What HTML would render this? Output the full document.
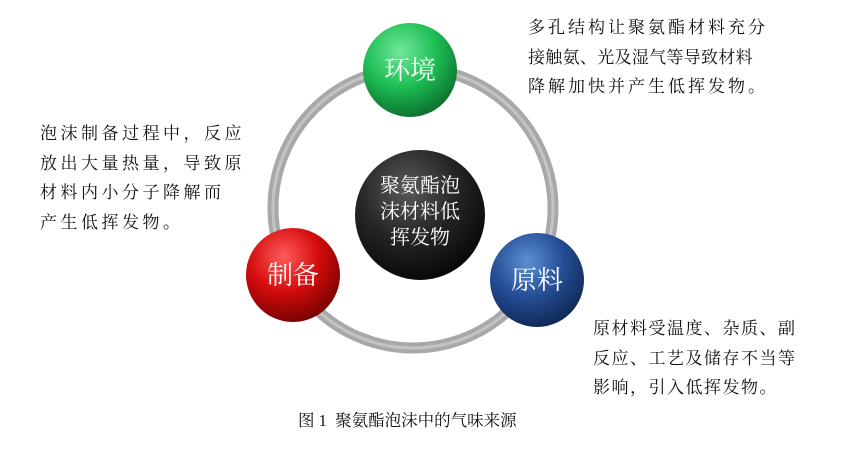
<!DOCTYPE html>
<html><head><meta charset="utf-8"><style>
body{margin:0;width:851px;height:452px;background:#fff;overflow:hidden;position:relative;font-family:"Liberation Serif","Noto Serif CJK SC","Noto Sans CJK SC",serif;}
.t{position:absolute;font-size:17px;color:#111;line-height:29.5px;white-space:nowrap;}
</style></head><body>
<svg width="851" height="452" style="position:absolute;left:0;top:0">
<defs>
<radialGradient id="g" cx="40%" cy="30%" r="75%"><stop offset="0" stop-color="#6fe89a"/><stop offset=".5" stop-color="#1fbf55"/><stop offset="1" stop-color="#0a6a2a"/></radialGradient>
<radialGradient id="r" cx="40%" cy="30%" r="75%"><stop offset="0" stop-color="#ff5a5a"/><stop offset=".5" stop-color="#d40c0c"/><stop offset="1" stop-color="#700000"/></radialGradient>
<radialGradient id="b" cx="40%" cy="30%" r="75%"><stop offset="0" stop-color="#5d8fd0"/><stop offset=".5" stop-color="#254f96"/><stop offset="1" stop-color="#0d2550"/></radialGradient>
<radialGradient id="k" cx="40%" cy="30%" r="75%"><stop offset="0" stop-color="#5a5a5a"/><stop offset=".5" stop-color="#262626"/><stop offset="1" stop-color="#050505"/></radialGradient>
</defs>
<circle cx="413" cy="208" r="140" fill="none" stroke="#a8a8a8" stroke-width="11"/>
<circle cx="413" cy="208" r="140" fill="none" stroke="#c4c4c4" stroke-width="3"/>
<circle cx="420" cy="215" r="65" fill="url(#k)"/>
<circle cx="410" cy="70" r="47" fill="url(#g)"/>
<circle cx="293" cy="275" r="47" fill="url(#r)"/>
<circle cx="537" cy="280" r="47" fill="url(#b)"/>
<g fill="#fff" font-family="Liberation Serif,Noto Serif CJK SC,serif" text-anchor="middle">
<text x="410" y="79" font-size="26">环境</text>
<text x="293" y="284" font-size="26">制备</text>
<text x="537" y="289" font-size="26">原料</text>
<text x="420" y="192" font-size="20">聚氨酯泡</text>
<text x="420" y="218" font-size="20">沫材料低</text>
<text x="420" y="244" font-size="20">挥发物</text>
</g>
</svg>
<div class="t" style="left:528px;top:13px;letter-spacing:3px">多孔结构让聚氨酯材料充分<br><span style="letter-spacing:0.3px">接触氨、光及湿气等导致材料</span><br>降解加快并产生低挥发物。</div>
<div class="t" style="left:40px;top:119px;letter-spacing:3.5px">泡沫制备过程中，反应<br>放出大量热量，导致原<br>材料内小分子降解而<br>产生低挥发物。</div>
<div class="t" style="left:593px;top:314px;letter-spacing:1.5px">原材料受温度、杂质、副<br>反应、工艺及储存不当等<br>影响，引入低挥发物。</div>
<div class="t" style="left:298px;top:406px;font-size:16.5px">图 1&nbsp; 聚氨酯泡沫中的气味来源</div>
</body></html>
